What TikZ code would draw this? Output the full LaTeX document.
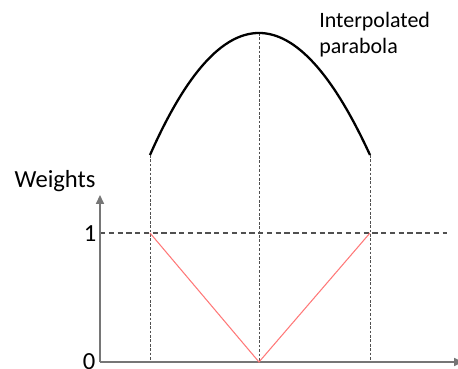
\documentclass[tikz,border=0pt]{standalone}
\usepackage{fontspec}
\setmainfont{Carlito}
\usepackage{xcolor}
\usetikzlibrary{arrows.meta}
\definecolor{AxisGray}{RGB}{118, 118, 118}
\definecolor{GuideGray}{RGB}{80, 80, 80}
\definecolor{WeightRed}{RGB}{255, 120, 120}

\begin{document}
\begin{tikzpicture}[
    x=0.02cm, y=-0.02cm,
    axis/.style={draw=AxisGray, line width=0.8pt, -{Triangle[width=4.5pt, length=5pt]}},
    guide/.style={draw=GuideGray, line width=0.5pt, dash pattern=on 1.5pt off 1pt},
    level/.style={draw=GuideGray, line width=0.6pt, dash pattern=on 3pt off 2pt},
    weight/.style={draw=WeightRed, line width=0.6pt},
    curve/.style={draw=black, line width=1.3pt},
    label/.style={inner sep=0pt, font=\fontsize{14}{16}\selectfont}
]
\useasboundingbox (0,0) rectangle (458,369);

% Key points (pixel grid, y downwards)
\coordinate (origin) at (100,362);
\coordinate (ytip) at (100,195);
\coordinate (xtip) at (463,362);
\coordinate (left) at (150,155);
\coordinate (top) at (259,33);
\coordinate (right) at (370,155);
\coordinate (leftone) at (150,233);
\coordinate (midone) at (259,233);
\coordinate (rightone) at (370,233);
\coordinate (levelend) at (447,233);
\coordinate (leftzero) at (150,362);
\coordinate (midzero) at (259,362);
\coordinate (rightzero) at (370,362);

% Guides
\foreach \p in {left, top, right} {
    \draw[guide] (\p) -- (\p |- origin);
}
\draw[level] (ytip |- leftone) -- (levelend);

% Axes
\draw[axis] (origin) -- (ytip);
\draw[axis] (origin) -- (xtip);

% Weights
\draw[weight] (leftone) -- (midzero) -- (rightone);

% Parabola
\draw[curve] (left) .. controls (222,-7.7) and (295.3,-7.7) .. (right);

% Labels
\node[label, anchor=base] (weights) at (55,187) {Weights};
\node[label, anchor=base] (one) at (90,241) {1};
\node[label, anchor=base] (zero) at (89,369) {0};
\node[inner sep=0pt, anchor=north west, align=left,
      font=\fontsize{12.5}{14.7}\selectfont] (parlabel) at (319,12)
      {Interpolated\\parabola};

\end{tikzpicture}
\end{document}
